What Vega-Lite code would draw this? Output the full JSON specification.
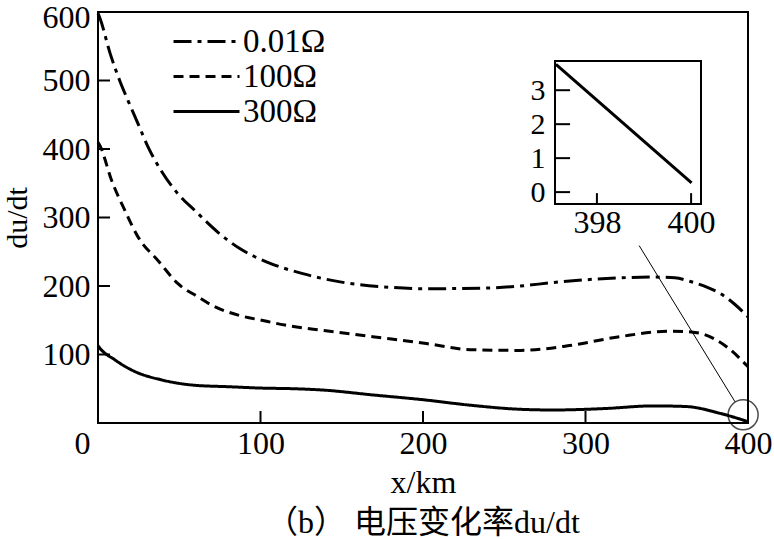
{
  "$schema": "https://vega.github.io/schema/vega-lite/v6.json",
  "width": 650,
  "height": 411,
  "autosize": "none",
  "padding": {"left": 98, "top": 12, "right": 26, "bottom": 116},
  "background": "white",
  "config": {
    "view": {"stroke": "black", "strokeWidth": 2},
    "font": "Liberation Serif",
    "axis": {"grid": false, "domain": false, "ticks": false, "labelColor": "black", "titleColor": "black", "labelFont": "Liberation Serif", "titleFont": "Liberation Serif", "titleFontWeight": "normal", "labelFlush": false}
  },
  "title": {"text": "（b） 电压变化率du/dt", "orient": "bottom", "anchor": "middle", "offset": 10, "font": "Liberation Serif, 'Noto Sans CJK SC'", "fontSize": 32, "fontWeight": "normal", "color": "black"},
  "datasets": {
    "curves": [
      {"x": 0, "y": 598, "series": "0.01Ω"}, {"x": 1.2, "y": 591, "series": "0.01Ω"}, {"x": 7.4, "y": 540, "series": "0.01Ω"}, {"x": 13.5, "y": 499, "series": "0.01Ω"}, {"x": 18.6, "y": 470, "series": "0.01Ω"}, {"x": 24.8, "y": 436, "series": "0.01Ω"}, {"x": 31, "y": 402, "series": "0.01Ω"}, {"x": 39, "y": 368, "series": "0.01Ω"}, {"x": 49.4, "y": 334, "series": "0.01Ω"}, {"x": 59.7, "y": 310, "series": "0.01Ω"}, {"x": 74, "y": 278, "series": "0.01Ω"}, {"x": 87, "y": 255, "series": "0.01Ω"}, {"x": 104, "y": 235, "series": "0.01Ω"}, {"x": 126, "y": 218, "series": "0.01Ω"}, {"x": 149, "y": 206, "series": "0.01Ω"}, {"x": 180, "y": 198, "series": "0.01Ω"}, {"x": 202, "y": 196, "series": "0.01Ω"}, {"x": 239, "y": 197, "series": "0.01Ω"}, {"x": 260, "y": 200, "series": "0.01Ω"}, {"x": 280, "y": 205, "series": "0.01Ω"}, {"x": 313, "y": 211, "series": "0.01Ω"}, {"x": 342, "y": 213, "series": "0.01Ω"}, {"x": 355, "y": 212, "series": "0.01Ω"}, {"x": 364, "y": 207, "series": "0.01Ω"}, {"x": 375, "y": 198, "series": "0.01Ω"}, {"x": 383, "y": 189, "series": "0.01Ω"}, {"x": 392, "y": 173, "series": "0.01Ω"}, {"x": 400, "y": 155, "series": "0.01Ω"},
      {"x": 0, "y": 410, "series": "100Ω"}, {"x": 1.2, "y": 405, "series": "100Ω"}, {"x": 8.4, "y": 354, "series": "100Ω"}, {"x": 16.6, "y": 310, "series": "100Ω"}, {"x": 24.8, "y": 271, "series": "100Ω"}, {"x": 37, "y": 237, "series": "100Ω"}, {"x": 49.4, "y": 203, "series": "100Ω"}, {"x": 61.7, "y": 184, "series": "100Ω"}, {"x": 70, "y": 172, "series": "100Ω"}, {"x": 87, "y": 157, "series": "100Ω"}, {"x": 100.7, "y": 150, "series": "100Ω"}, {"x": 115, "y": 143, "series": "100Ω"}, {"x": 139, "y": 135, "series": "100Ω"}, {"x": 169, "y": 126, "series": "100Ω"}, {"x": 202, "y": 116, "series": "100Ω"}, {"x": 229, "y": 107, "series": "100Ω"}, {"x": 260, "y": 106, "series": "100Ω"}, {"x": 290, "y": 113, "series": "100Ω"}, {"x": 321, "y": 126, "series": "100Ω"}, {"x": 352, "y": 134, "series": "100Ω"}, {"x": 365, "y": 133, "series": "100Ω"}, {"x": 372, "y": 130, "series": "100Ω"}, {"x": 387, "y": 111, "series": "100Ω"}, {"x": 400, "y": 82, "series": "100Ω"},
      {"x": 0, "y": 113, "series": "300Ω"}, {"x": 0.6, "y": 111, "series": "300Ω"}, {"x": 10.5, "y": 92, "series": "300Ω"}, {"x": 22.8, "y": 75, "series": "300Ω"}, {"x": 39, "y": 63, "series": "300Ω"}, {"x": 60, "y": 55, "series": "300Ω"}, {"x": 80, "y": 53, "series": "300Ω"}, {"x": 100, "y": 51, "series": "300Ω"}, {"x": 121, "y": 50, "series": "300Ω"}, {"x": 139, "y": 48, "series": "300Ω"}, {"x": 169, "y": 41, "series": "300Ω"}, {"x": 200, "y": 34, "series": "300Ω"}, {"x": 229, "y": 26, "series": "300Ω"}, {"x": 260, "y": 20, "series": "300Ω"}, {"x": 280, "y": 19, "series": "300Ω"}, {"x": 311, "y": 21, "series": "300Ω"}, {"x": 342, "y": 25, "series": "300Ω"}, {"x": 362, "y": 24, "series": "300Ω"}, {"x": 383, "y": 14, "series": "300Ω"}, {"x": 400, "y": 2, "series": "300Ω"}
    ],
    "inset": [
      {"ix": 397.13, "iy": 3.76}, {"ix": 400.01, "iy": 0.27}
    ],
    "one": [{}],
    "xticks": [{"x": 100}, {"x": 200}, {"x": 300}],
    "yticks": [{"y": 100}, {"y": 200}, {"y": 300}, {"y": 400}, {"y": 500}],
    "ixticks": [{"ix": 398}, {"ix": 400}],
    "iyticks": [{"iy": 0}, {"iy": 1}, {"iy": 2}, {"iy": 3}]
  },
  "layer": [
    {
      "layer": [
        {
          "data": {"name": "curves"},
          "mark": {"type": "line", "strokeWidth": 3, "color": "black", "interpolate": "monotone"},
          "encoding": {
            "x": {"field": "x", "type": "quantitative", "scale": {"domain": [0, 400], "nice": false},
              "axis": {"title": "x/km", "values": [0, 100, 200, 300, 400], "labelFontSize": 32, "labelPadding": 5, "titleFontSize": 32, "titlePadding": 8,
                "labelOffset": {"condition": {"test": "datum.value === 0", "value": -16}, "value": 0}}},
            "y": {"field": "y", "type": "quantitative", "scale": {"domain": [0, 600], "nice": false},
              "axis": {"title": "du/dt", "values": [100, 200, 300, 400, 500, 600], "labelFontSize": 32, "labelPadding": 8, "titleFontSize": 30, "titlePadding": 10,
                "labelOffset": {"condition": {"test": "datum.value === 600", "value": 5}, "value": 0}}},
            "strokeDash": {"field": "series", "type": "nominal",
              "scale": {"domain": ["0.01Ω", "100Ω", "300Ω"], "range": [[18, 6, 4, 6], [10, 6], [1, 0]]},
              "legend": {"title": null, "orient": "none", "legendX": 70, "legendY": 13, "symbolType": "M-1,0H5", "symbolSize": 484, "symbolStrokeWidth": 3, "symbolStrokeColor": "black", "symbolFillColor": "transparent", "labelFontSize": 33, "labelColor": "black", "labelFont": "Liberation Serif", "rowPadding": 1, "labelOffset": 42}},
            "detail": {"field": "series"}
          }
        },
        {
          "data": {"name": "xticks"},
          "mark": {"type": "rule", "strokeWidth": 2, "color": "black"},
          "encoding": {"x": {"field": "x", "type": "quantitative"}, "y": {"datum": 0, "type": "quantitative"}, "y2": {"datum": 17.5}}
        },
        {
          "data": {"name": "yticks"},
          "mark": {"type": "rule", "strokeWidth": 2, "color": "black"},
          "encoding": {"y": {"field": "y", "type": "quantitative"}, "x": {"datum": 0, "type": "quantitative"}, "x2": {"datum": 7.4}}
        },
        {
          "data": {"name": "one"},
          "mark": {"type": "rule", "strokeWidth": 1, "color": "black"},
          "encoding": {"x": {"datum": 333, "type": "quantitative"}, "y": {"datum": 259, "type": "quantitative"}, "x2": {"datum": 392}, "y2": {"datum": 31}}
        },
        {
          "data": {"name": "one"},
          "mark": {"type": "point", "shape": "circle", "size": 900, "filled": false, "stroke": "black", "strokeWidth": 1.5, "clip": false},
          "encoding": {"x": {"datum": 397, "type": "quantitative"}, "y": {"datum": 12, "type": "quantitative"}}
        }
      ]
    },
    {
      "layer": [
        {
          "data": {"name": "one"},
          "mark": {"type": "rect", "fill": "white", "stroke": "black", "strokeWidth": 2},
          "encoding": {"x": {"datum": 397.11, "type": "quantitative"}, "x2": {"datum": 400.21}, "y": {"datum": -0.35, "type": "quantitative"}, "y2": {"datum": 3.86}}
        },
        {
          "data": {"name": "ixticks"},
          "mark": {"type": "rule", "strokeWidth": 2, "color": "black"},
          "encoding": {"x": {"field": "ix", "type": "quantitative"}, "y": {"datum": -0.35, "type": "quantitative"}, "y2": {"datum": -0.03}}
        },
        {
          "data": {"name": "iyticks"},
          "mark": {"type": "rule", "strokeWidth": 2, "color": "black"},
          "encoding": {"y": {"field": "iy", "type": "quantitative"}, "x": {"datum": 397.11, "type": "quantitative"}, "x2": {"datum": 397.43}}
        },
        {
          "data": {"name": "inset"},
          "mark": {"type": "line", "strokeWidth": 3, "color": "black"},
          "encoding": {
            "x": {"field": "ix", "type": "quantitative", "scale": {"domain": [397.11, 400.21], "range": [457, 603], "nice": false, "zero": false},
              "axis": {"orient": "bottom", "offset": -219, "title": null, "values": [398, 400], "format": "d", "labelFontSize": 32, "labelPadding": 3}},
            "y": {"field": "iy", "type": "quantitative", "scale": {"domain": [-0.35, 3.86], "range": [192, 49], "nice": false, "zero": false},
              "axis": {"orient": "left", "offset": -457, "title": null, "values": [0, 1, 2, 3], "format": "d", "labelFontSize": 30, "labelPadding": 10}}
          }
        }
      ]
    }
  ],
  "resolve": {"scale": {"x": "independent", "y": "independent"}}
}
